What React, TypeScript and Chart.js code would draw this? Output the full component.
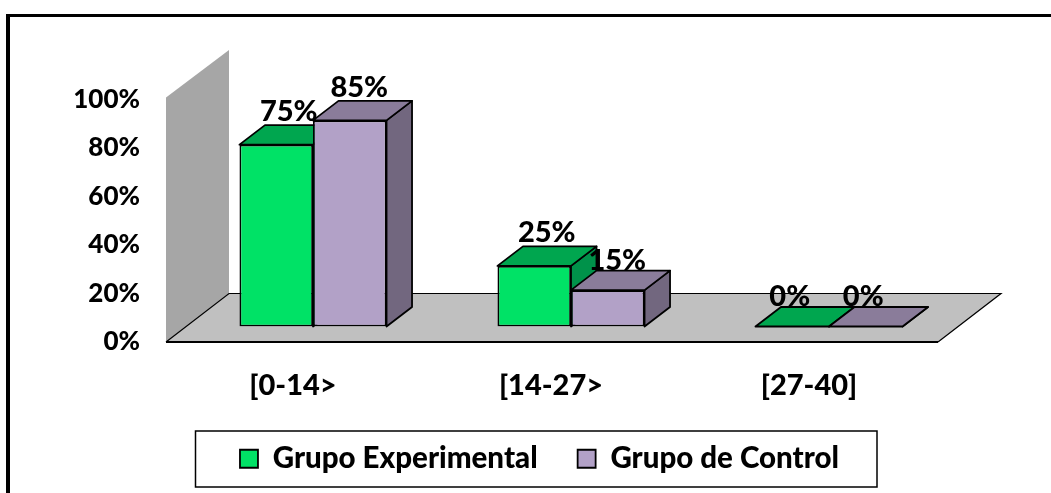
import React, { useEffect, useRef } from "react";
import { Chart, registerables } from "chart.js";

Chart.register(...registerables);

const categories = ["[0-14>", "[14-27>", "[27-40]"];
const grupoExperimental = [75, 25, 0];
const grupoControl = [85, 15, 0];
const seriesNames = ["Grupo Experimental", "Grupo de Control"];

const FONT = "Lato, Carlito, sans-serif";
const WEIGHT = "900";
const TICK_SIZE = 26;
const LABEL_SIZE = 29;
const LEGEND_SIZE = 29.5;
const CATEGORY_SIZE = 29;
const BLACK = "#000000";
const FACE = ["#00E266", "#B2A1C7"];
const TOP = ["#00A64F", "#8A7C9A"];
const SIDE = ["#00924A", "#72677F"];
const DEPTH_X = 25.5;
const DEPTH_Y = 19.5;

const poly = (ctx: CanvasRenderingContext2D, pts: number[][], fill: string | null, stroke: string | null, lw = 1) => {
  ctx.beginPath();
  pts.forEach(([x, y], i) => (i ? ctx.lineTo(x, y) : ctx.moveTo(x, y)));
  ctx.closePath();
  if (fill) {
    ctx.fillStyle = fill;
    ctx.fill();
  }
  if (stroke) {
    ctx.strokeStyle = stroke;
    ctx.lineWidth = lw;
    ctx.lineJoin = "round";
    ctx.stroke();
  }
};

const scene3d = {
  id: "scene3d",
  afterLayout(chart: any) {
    const lg = chart.legend;
    lg.left = 3.5;
    lg.right = 1075.5;
    lg.top = 404;
    lg.bottom = 487;
  },
  beforeDraw(chart: any) {
    const ctx: CanvasRenderingContext2D = chart.ctx;
    ctx.save();
    // page frame: top and left rules only
    ctx.fillStyle = BLACK;
    ctx.fillRect(6, 14, 1045, 3);
    ctx.fillRect(6, 14, 4, 479);
    // legend frame
    ctx.strokeStyle = BLACK;
    ctx.lineWidth = 1.5;
    ctx.strokeRect(195.5, 431, 681.5, 56);
    ctx.restore();
  },
  beforeDatasetsDraw(chart: any) {
    const ctx: CanvasRenderingContext2D = chart.ctx;
    const { left, right } = chart.chartArea;
    const y0 = chart.scales.y.getPixelForValue(0);
    const y100 = chart.scales.y.getPixelForValue(100);
    const fx = left - 18;
    const fy = y0 + 15.5;
    const bx = fx + 63;
    const by = fy - 48.5;
    const rx = right - 20;
    ctx.save();
    // wall
    poly(ctx, [[fx, fy], [bx, by], [bx, by - (y0 - y100) - 1], [fx, fy - (y0 - y100) - 2]], "#A6A6A6", null);
    // floor
    poly(ctx, [[fx, fy], [bx, by], [rx + 63, by], [rx, fy]], "#C0C0C0", null);
    ctx.strokeStyle = BLACK;
    ctx.lineWidth = 1.2;
    ctx.beginPath();
    ctx.moveTo(fx, fy);
    ctx.lineTo(bx, by);
    ctx.lineTo(rx + 63, by);
    ctx.lineTo(rx, fy);
    ctx.stroke();
    ctx.lineWidth = 2;
    ctx.beginPath();
    ctx.moveTo(fx, fy);
    ctx.lineTo(rx, fy);
    ctx.stroke();
    // bar tops and sides, behind the front faces
    chart.data.datasets.forEach((_: any, d: number) => {
      chart.getDatasetMeta(d).data.forEach((bar: any) => {
        const p = bar.getProps(["x", "y", "base", "width"], true);
        const l = p.x - p.width / 2;
        const r = p.x + p.width / 2;
        poly(ctx, [[r, p.y], [r + DEPTH_X, p.y - DEPTH_Y], [r + DEPTH_X, p.base - DEPTH_Y], [r, p.base]], SIDE[d], BLACK, 1.8);
        poly(ctx, [[l, p.y], [l + DEPTH_X, p.y - DEPTH_Y], [r + DEPTH_X, p.y - DEPTH_Y], [r, p.y]], TOP[d], BLACK, 1.8);
      });
    });
    ctx.restore();
  },
  afterDatasetsDraw(chart: any) {
    const ctx: CanvasRenderingContext2D = chart.ctx;
    ctx.save();
    ctx.font = `${WEIGHT} ${LABEL_SIZE}px ${FONT}`;
    ctx.fillStyle = BLACK;
    ctx.textAlign = "center";
    ctx.textBaseline = "middle";
    chart.data.datasets.forEach((ds: any, d: number) => {
      chart.getDatasetMeta(d).data.forEach((bar: any, i: number) => {
        const v = ds.data[i];
        const dx = v === 0 ? -2.5 : d === 0 ? 12.5 : 9.5;
        const dy = v === 0 ? -30 : d === 1 && v < 50 ? -29 : -33;
        ctx.fillText(`${v}%`, bar.x + dx, bar.y + dy);
      });
    });
    ctx.restore();
  },
};

export default function App() {
  const ref = useRef<HTMLCanvasElement>(null);
  useEffect(() => {
    const chart = new Chart(ref.current!, {
      type: "bar",
      data: {
        labels: categories,
        datasets: [
          { label: seriesNames[0], data: grupoExperimental, backgroundColor: FACE[0], borderColor: BLACK, borderWidth: 1.8, borderSkipped: false },
          { label: seriesNames[1], data: grupoControl, backgroundColor: FACE[1], borderColor: BLACK, borderWidth: 1.8, borderSkipped: false },
        ],
      },
      options: {
        animation: false,
        responsive: false,
        layout: { padding: { left: 20, right: 93, top: 84, bottom: 0 } },
        datasets: { bar: { categoryPercentage: 0.57, barPercentage: 1 } },
        plugins: {
          tooltip: { enabled: false },
          title: { display: false },
          legend: {
            position: "bottom",
            labels: {
              color: BLACK,
              boxWidth: 18,
              boxHeight: 18,
              padding: 40,
              font: { family: FONT, size: LEGEND_SIZE, weight: WEIGHT },
            },
          },
        },
        scales: {
          x: {
            grid: { display: false, drawTicks: false },
            border: { display: false },
            afterFit: (s: any) => { s.height = 87; },
            ticks: {
              color: BLACK,
              padding: 42,
              labelOffset: -20,
              maxRotation: 0,
              font: { family: FONT, size: CATEGORY_SIZE, weight: WEIGHT },
            },
          },
          y: {
            min: 0,
            max: 100,
            grid: { display: false, drawTicks: false },
            border: { display: false },
            afterFit: (s: any) => { s.width = 164; },
            ticks: {
              color: BLACK,
              stepSize: 20,
              padding: 44,
              labelOffset: 15.5,
              callback: (v: any) => `${v}%`,
              font: { family: FONT, size: TICK_SIZE, weight: WEIGHT },
            },
          },
        },
      },
      plugins: [scene3d],
    } as any);
    return () => chart.destroy();
  }, []);
  return (
    <canvas
      ref={ref}
      width={1051}
      height={493}
      style={{ position: "fixed", left: 0, top: 0, width: 1051, height: 493, display: "block" }}
    />
  );
}
